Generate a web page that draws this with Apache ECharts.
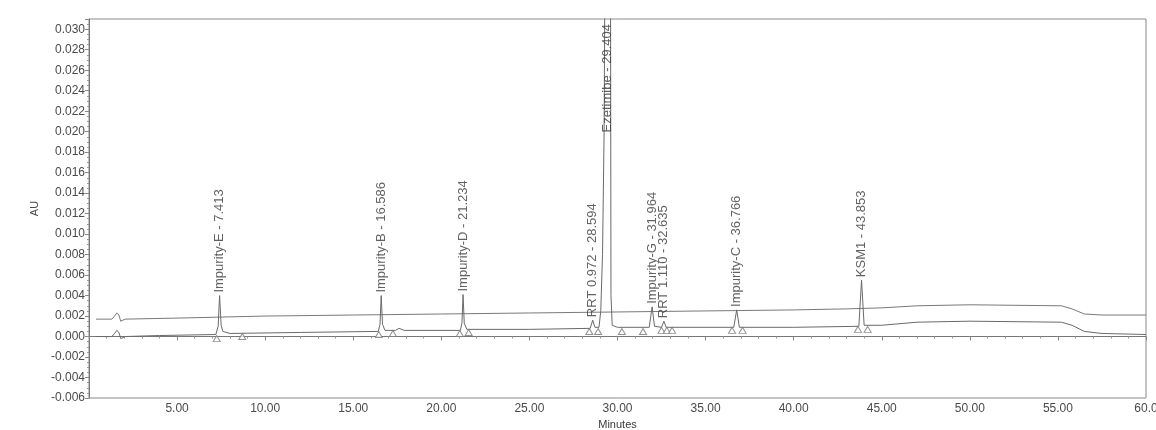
<!DOCTYPE html>
<html>
<head>
<meta charset="utf-8">
<script src="https://cdn.jsdelivr.net/npm/echarts@6/dist/echarts.min.js"></script>
<style>
html,body{margin:0;padding:0;background:#ffffff;}
#chart{width:1156px;height:430px;}
</style>
</head>
<body>
<div id="chart"></div>
<script>
// ---- data ----
const xTicks = [5, 10, 15, 20, 25, 30, 35, 40, 45, 50, 55, 60];
const yTicks = [-0.006, -0.004, -0.002, 0.000, 0.002, 0.004, 0.006, 0.008, 0.010, 0.012, 0.014, 0.016, 0.018, 0.020, 0.022, 0.024, 0.026, 0.028, 0.030];

const peakNames = ['Impurity-E', 'Impurity-B', 'Impurity-D', 'RRT 0.972', 'Ezetimibe', 'Impurity-G', 'RRT 1.110', 'Impurity-C', 'KSM1'];
const peakTimes = [7.413, 16.586, 21.234, 28.594, 29.404, 31.964, 32.635, 36.766, 43.853];

// sample trace (minutes, AU)
const sampleTime = [0.4, 1.3, 1.45, 1.58, 1.7, 1.8, 1.9, 2.05, 4.0, 7.2, 7.33, 7.413, 7.5, 7.6, 8.0, 12.0, 16.42, 16.52, 16.586, 16.66, 16.8, 17.4, 17.6, 17.9, 21.08, 21.17, 21.234, 21.3, 21.45, 25.0, 28.45, 28.594, 28.72, 28.95, 29.05, 29.15, 29.24, 29.3, 29.404, 29.6, 29.63, 29.7, 30.0, 31.8, 31.964, 32.1, 32.5, 32.635, 32.76, 36.6, 36.766, 36.92, 40.0, 43.7, 43.853, 44.0, 45.0, 47.0, 50.0, 55.2, 55.8, 56.5, 57.5, 60.0];
const sampleAU   = [0.0000, 0.0000, 0.0003, 0.0006, 0.0004, -0.0002, -0.0003, 0.0000, 0.0001, 0.0002, 0.0010, 0.0040, 0.0011, 0.0005, 0.0003, 0.0004, 0.0005, 0.0012, 0.0040, 0.0012, 0.0006, 0.0006, 0.0008, 0.0006, 0.0006, 0.0013, 0.0041, 0.0013, 0.0007, 0.0007, 0.0008, 0.0016, 0.0009, 0.0009, 0.0025, 0.0080, 0.0200, 0.0400, 0.2500, 0.0400, 0.0040, 0.0011, 0.0009, 0.0009, 0.0029, 0.0010, 0.0009, 0.0015, 0.0009, 0.0009, 0.0026, 0.0009, 0.0009, 0.0010, 0.0055, 0.0011, 0.0011, 0.0014, 0.0015, 0.0014, 0.0011, 0.0005, 0.0003, 0.0002];

// offset (upper) trace (minutes, AU)
const blankTime = [0.4, 1.3, 1.45, 1.58, 1.7, 1.8, 1.9, 2.05, 5.0, 10.0, 15.0, 20.0, 25.0, 30.0, 35.0, 40.0, 43.0, 45.0, 47.0, 50.0, 55.2, 55.8, 56.5, 57.5, 60.0];
const blankAU   = [0.0017, 0.0017, 0.0020, 0.0023, 0.0021, 0.0015, 0.0014, 0.0017, 0.0018, 0.0020, 0.0021, 0.0022, 0.0023, 0.0024, 0.0025, 0.0026, 0.0027, 0.0028, 0.0030, 0.0031, 0.0030, 0.0027, 0.0022, 0.0021, 0.0021];

// integration marks (peak start / end)
const markTime = [7.25, 8.7, 16.45, 17.25, 21.05, 21.55, 28.4, 28.9, 30.25, 31.45, 32.5, 32.8, 33.1, 36.5, 37.1, 43.65, 44.2];
const markAU   = [-0.0002, 0.0000, 0.0002, 0.0003, 0.0003, 0.0004, 0.0005, 0.0005, 0.0005, 0.0005, 0.0006, 0.0006, 0.0006, 0.0006, 0.0006, 0.0007, 0.0007];

// ---- build ----
const Y_MIN = -0.006, Y_MAX = 0.031;
const sampleData = sampleTime.map((t, i) => [t, sampleAU[i]]);
const blankData = blankTime.map((t, i) => [t, blankAU[i]]);
const markData = markTime.map((t, i) => [t, markAU[i]]);

const FONT = 'Liberation Sans';
const TXT = '#4a4a4a';
const LINE = '#7a7a7a';

const labelData = peakNames.map((n, i) => {
  const t = peakTimes[i];
  const apex = sampleData.find(p => p[0] === t)[1];
  const clipped = apex > Y_MAX;
  return {
    value: [t, clipped ? Y_MAX : apex],
    label: {
      formatter: n + ' - ' + t.toFixed(3),
      position: clipped ? 'bottom' : 'top',
      align: clipped ? 'right' : 'left',
      distance: clipped ? 5 : 3
    }
  };
});

const chart = echarts.init(document.getElementById('chart'), null, {renderer: 'canvas'});
chart.setOption({
  animation: false,
  backgroundColor: '#ffffff',
  grid: {left: 89, right: 10, top: 19, bottom: 32, show: true, borderColor: '#8a8a8a', borderWidth: 1,
         containLabel: false, outerBoundsMode: 'none'},
  xAxis: {
    type: 'value', min: 0, max: 60, interval: 5,
    name: 'Minutes', nameLocation: 'middle', nameGap: 19,
    nameTextStyle: {fontFamily: FONT, fontSize: 11, color: '#3a3a3a'},
    axisLine: {lineStyle: {color: '#777', width: 1}},
    axisTick: {length: 4, lineStyle: {color: '#888'}},
    minorTick: {show: true, splitNumber: 5, length: 2, lineStyle: {color: '#999'}},
    splitLine: {show: false},
    axisLabel: {
      fontFamily: FONT, fontSize: 12, color: TXT, margin: 5,
      formatter: v => xTicks.includes(v) ? (v === 60 ? '60.0' : v.toFixed(2)) : ''
    }
  },
  yAxis: {
    type: 'value', min: Y_MIN, max: Y_MAX, interval: 0.002,
    name: 'AU', nameLocation: 'middle', nameGap: 46, nameRotate: 90,
    nameTextStyle: {fontFamily: FONT, fontSize: 11, color: TXT},
    axisLine: {show: true, lineStyle: {color: '#777', width: 1}},
    axisTick: {show: true, length: 4, lineStyle: {color: '#888'}},
    minorTick: {show: true, splitNumber: 4, length: 2, lineStyle: {color: '#999'}},
    splitLine: {show: false},
    axisLabel: {
      fontFamily: FONT, fontSize: 12, color: TXT, margin: 4, showMaxLabel: false,
      formatter: v => {
        const hit = yTicks.find(y => Math.abs(y - v) < 1e-9);
        return hit === undefined ? '' : hit.toFixed(3);
      }
    }
  },
  series: [
    {
      name: 'offset', type: 'line', data: blankData, showSymbol: false, symbol: 'none',
      lineStyle: {color: LINE, width: 1}, z: 2
    },
    {
      name: 'sample', type: 'line', data: sampleData, showSymbol: false, symbol: 'none',
      lineStyle: {color: '#6a6a6a', width: 1}, z: 3
    },
    {
      name: 'marks', type: 'scatter', data: markData, symbol: 'triangle', symbolSize: [7, 6],
      itemStyle: {color: '#ffffff', borderColor: '#777', borderWidth: 1}, z: 4, silent: true
    },
    {
      name: 'labels', type: 'scatter', data: labelData, symbolSize: 0, z: 5, silent: true,
      label: {
        show: true, rotate: 90, verticalAlign: 'middle',
        fontFamily: FONT, fontSize: 13, color: '#3a3a3a'
      }
    }
  ]
});
</script>
</body>
</html>
